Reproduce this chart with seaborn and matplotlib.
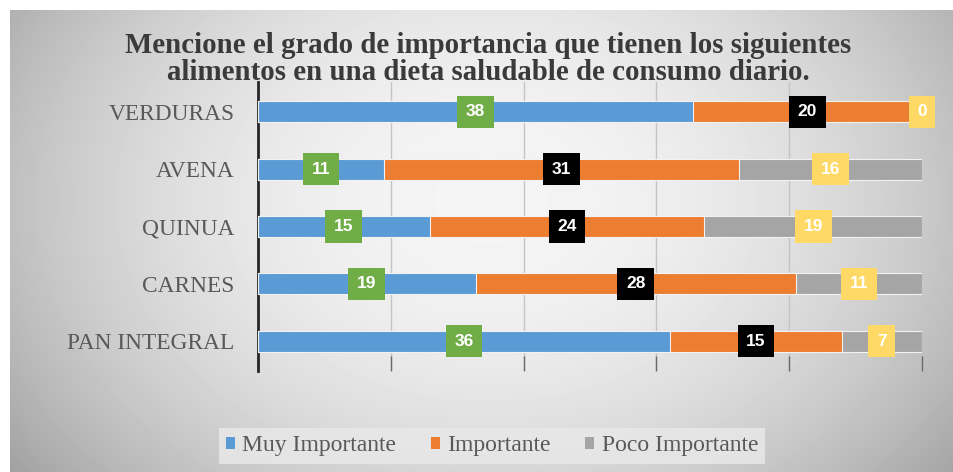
import numpy as np
import pandas as pd
import matplotlib
matplotlib.use("Agg")
import matplotlib.pyplot as plt
import seaborn as sns
from matplotlib.patches import Patch

# Survey answers per food (number of respondents)
alimentos = ["VERDURAS", "AVENA", "QUINUA", "CARNES", "PAN INTEGRAL"]
muy_importante = [38, 11, 15, 19, 36]
importante = [20, 31, 24, 28, 15]
poco_importante = [0, 16, 19, 11, 7]
series = ["Muy Importante", "Importante", "Poco Importante"]

colores = ["#5B9BD5", "#ED7D31", "#A5A5A5"]
fondo_etiquetas = ["#70AD47", "#000000", "#FFD966"]

titulo = ("Mencione el grado de importancia que tienen los siguientes\n"
          "alimentos en una dieta saludable de consumo diario.")

sns.set_theme(style="white")
plt.rcParams["font.family"] = ["Liberation Serif", "DejaVu Serif"]

W, H = 954, 472
fig = plt.figure(figsize=(W / 100, H / 100), dpi=100)
fig.patch.set_facecolor("white")

# soft radial grey background of the chart frame
bg = fig.add_axes([10 / W, 0, (W - 10) / W, (H - 10) / H], zorder=-5)
yy, xx = np.mgrid[0:462, 0:944]
r = np.sqrt(((xx - 480) / 480) ** 2 + ((yy - 190) / 360) ** 2)
shade = 0.96 - 0.21 * np.clip(r, 0, 1.4) ** 2
bg.imshow(shade, cmap="gray", vmin=0, vmax=1, aspect="auto",
          interpolation="bilinear")
bg.axis("off")

# 100% stacked bars
df = pd.DataFrame({"alimento": alimentos,
                   "muy": muy_importante,
                   "imp": importante,
                   "poco": poco_importante})
total = df[["muy", "imp", "poco"]].sum(axis=1)
for c in ["muy", "imp", "poco"]:
    df[c + "_pct"] = df[c] / total * 100
df["fin_muy"] = df["muy_pct"]
df["fin_imp"] = df["muy_pct"] + df["imp_pct"]
df["fin_poco"] = df["fin_imp"] + df["poco_pct"]

ax = fig.add_axes([258 / W, 1 - 371 / H, (922 - 258) / W, (371 - 82) / H])
ax.set_facecolor("none")

for fin, color in zip(["fin_poco", "fin_imp", "fin_muy"], colores[::-1]):
    sns.barplot(data=df, x=fin, y="alimento", order=alimentos, orient="h",
                color=color, saturation=1, width=0.37, errorbar=None,
                edgecolor="#f2f2f2", linewidth=0.8, ax=ax, zorder=3)

# value labels in coloured boxes
inicio = [np.zeros(len(df)), df["fin_muy"].values, df["fin_imp"].values]
pcts = [df["muy_pct"].values, df["imp_pct"].values, df["poco_pct"].values]
valores = [muy_importante, importante, poco_importante]
for s in range(3):
    for i in range(len(alimentos)):
        xc = inicio[s][i] + pcts[s][i] / 2
        ax.text(xc, i, str(valores[s][i]), ha="center", va="center",
                fontsize=12.5, fontweight="bold", color="white",
                family=["Liberation Sans", "DejaVu Sans"], zorder=6,
                bbox=dict(boxstyle="square,pad=0.5", facecolor=fondo_etiquetas[s],
                          edgecolor="none"))

ax.set_xlim(0, 100)
ax.set_ylim(4.52, -0.52)
ax.set_xticks([0, 20, 40, 60, 80, 100])
ax.set_xticklabels([])
ax.grid(axis="x", color="#c4c4c4", linewidth=1, zorder=0)
ax.set_axisbelow(True)
ax.set_xlabel("")
ax.set_ylabel("")
for side in ["top", "right", "bottom"]:
    ax.spines[side].set_visible(False)
ax.spines["left"].set_color("#262626")
ax.spines["left"].set_linewidth(2)
ax.tick_params(axis="x", bottom=True, direction="in", length=11, width=1,
               color="#6a6a6a")
ax.tick_params(axis="y", left=False, length=0, pad=17, labelsize=16.8,
               labelcolor="#595959")

fig.text(488 / W, 1 - 59 / H, titulo, ha="center", va="center", fontsize=20.8,
         fontweight="bold", color="#3a3a3a", linespacing=0.97)

handles = [Patch(facecolor=c, edgecolor="none") for c in colores]
leg = fig.legend(handles, series, loc="center", bbox_to_anchor=(492 / W, 1 - 446 / H),
                 ncol=3, frameon=True, fontsize=17, handlelength=0.4,
                 handleheight=0.4, handletextpad=0.3, columnspacing=1.45,
                 labelcolor="#595959", borderpad=0.1, borderaxespad=0)
leg.get_frame().set_facecolor("#e8e8e8")
leg.get_frame().set_edgecolor("none")
leg.get_frame().set_alpha(0.85)
leg.get_frame().set_boxstyle("square", pad=0.2)

fig.savefig("out.png", dpi=100)
